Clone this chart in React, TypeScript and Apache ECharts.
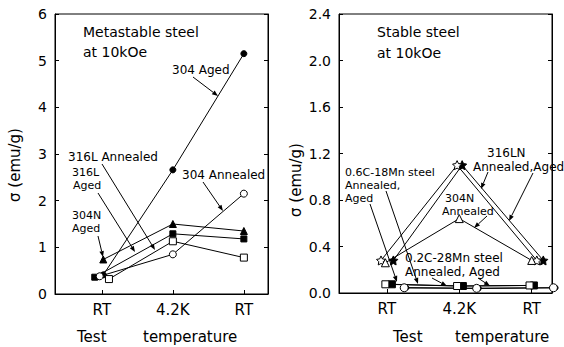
import React, { useEffect, useRef } from "react";
import * as echarts from "echarts";

// ---- Data ----
const categories = ["RT", "4.2K", "RT"];
const categoryPositions = [1, 2, 3];

// Left panel: metastable steel (σ in emu/g)
const leftYTicks = [0, 1, 2, 3, 4, 5, 6];
const aged304X = [1.02, 2.0, 3.0];
const aged304Y = [0.41, 2.66, 5.15];
const annealed304X = [0.97, 2.0, 3.0];
const annealed304Y = [0.38, 0.85, 2.15];
const aged304NX = [1.02, 2.0, 3.0];
const aged304NY = [0.74, 1.5, 1.35];
const aged316LX = [0.9, 2.0, 3.0];
const aged316LY = [0.36, 1.29, 1.18];
const annealed316LX = [1.1, 2.0, 3.0];
const annealed316LY = [0.32, 1.13, 0.78];

// Right panel: stable steel
const rightYTicks = [0, 0.4, 0.8, 1.2, 1.6, 2.0, 2.4];
const openStar316LNX = [0.92, 1.97, 3.07];
const openStar316LNY = [0.28, 1.1, 0.28];
const filledStar316LNX = [1.09, 2.04, 3.16];
const filledStar316LNY = [0.28, 1.1, 0.28];
const annealed304NX = [0.98, 2.0, 3.0];
const annealed304NY = [0.26, 0.64, 0.28];
const openSq06CX = [0.98, 1.97, 2.97];
const openSq06CY = [0.075, 0.06, 0.065];
const filledSq06CX = [1.07, 2.05, 3.03];
const filledSq06CY = [0.075, 0.06, 0.065];
const openCirc02CX = [1.24, 2.24, 3.3];
const openCirc02CY = [0.045, 0.04, 0.045];
const filledCirc02CX = [1.27, 2.27, 3.33];
const filledCirc02CY = [0.045, 0.04, 0.045];

const FONT = "'DejaVu Sans', sans-serif";
const STAR =
  "path://M0,-10L2.94,-4.05L9.51,-3.09L4.76,1.55L5.88,8.09L0,5.09L-5.88,8.09L-4.76,1.55L-9.51,-3.09L-2.94,-4.05Z";

function series(
  name: string,
  xs: number[],
  ys: number[],
  symbol: string,
  filled: boolean,
  size: number,
  axis: number
) {
  return {
    name,
    type: "line",
    xAxisIndex: axis,
    yAxisIndex: axis * 2,
    data: xs.map((x, i) => [x, ys[i]]),
    symbol,
    symbolSize: size,
    showSymbol: true,
    clip: false,
    lineStyle: { color: "#000", width: 1 },
    itemStyle: {
      color: filled ? "#000" : "#fff",
      borderColor: "#000",
      borderWidth: 1,
    },
    z: filled ? 3 : 4,
  };
}

function arrow(x1: number, y1: number, x2: number, y2: number) {
  const head = 6;
  const w = 2.3;
  const dx = x2 - x1;
  const dy = y2 - y1;
  const L = Math.hypot(dx, dy);
  const ux = dx / L;
  const uy = dy / L;
  const bx = x2 - ux * head;
  const by = y2 - uy * head;
  const px = -uy;
  const py = ux;
  return {
    type: "group",
    children: [
      {
        type: "line",
        shape: { x1, y1, x2: bx, y2: by },
        style: { stroke: "#000", lineWidth: 1 },
      },
      {
        type: "polygon",
        shape: {
          points: [
            [x2, y2],
            [bx + px * w, by + py * w],
            [bx - px * w, by - py * w],
          ],
        },
        style: { fill: "#000" },
      },
    ],
  };
}

function label(text: string, x: number, y: number, size = 12, rotation = 0, align = "left") {
  return {
    type: "text",
    x,
    y,
    rotation,
    style: {
      text,
      fill: "#000",
      fontSize: size,
      fontFamily: FONT,
      textAlign: align,
      textVerticalAlign: "middle",
    },
    z: 10,
  };
}

function xAxisCfg(gridIndex: number, min: number, max: number) {
  return {
    type: "value",
    gridIndex,
    min,
    max,
    axisLine: { show: true, lineStyle: { color: "#000", width: 1 } },
    axisTick: {
      show: true,
      inside: true,
      length: 4,
      customValues: categoryPositions,
      lineStyle: { color: "#000" },
    },
    axisLabel: {
      show: true,
      customValues: categoryPositions,
      formatter: (v: number) => categories[Math.round(v) - 1] ?? "",
      color: "#000",
      fontSize: 15,
      fontFamily: FONT,
      margin: 8,
    },
    splitLine: { show: false },
  };
}

function yAxisCfg(gridIndex: number, max: number, interval: number, right: boolean, decimals: number) {
  return {
    type: "value",
    gridIndex,
    position: right ? "right" : "left",
    min: 0,
    max,
    interval,
    axisLine: { show: true, onZero: false, lineStyle: { color: "#000", width: 1 } },
    axisTick: { show: true, inside: true, length: 4, lineStyle: { color: "#000" } },
    axisLabel: {
      show: !right,
      color: "#000",
      fontSize: 14,
      fontFamily: FONT,
      margin: 8,
      formatter: (v: number) => v.toFixed(decimals),
    },
    splitLine: { show: false },
  };
}

export default function App() {
  const ref = useRef<HTMLDivElement>(null);
  useEffect(() => {
    document.body.style.margin = "0";
    const chart = echarts.init(ref.current!, null, { renderer: "svg" });
    const option = {
      animation: false,
      backgroundColor: "#fff",
      grid: [
        { left: 55, top: 14, width: 213, height: 280, show: true, borderColor: "#000", borderWidth: 1 },
        { left: 339, top: 14, width: 213, height: 279, show: true, borderColor: "#000", borderWidth: 1 },
      ],
      xAxis: [xAxisCfg(0, 0.34, 3.34), xAxisCfg(1, 0.34, 3.28)],
      yAxis: [
        yAxisCfg(0, leftYTicks[leftYTicks.length - 1], 1, false, 0),
        yAxisCfg(0, leftYTicks[leftYTicks.length - 1], 1, true, 0),
        yAxisCfg(1, rightYTicks[rightYTicks.length - 1], 0.4, false, 1),
        yAxisCfg(1, rightYTicks[rightYTicks.length - 1], 0.4, true, 1),
      ],
      series: [
        series("304 Aged", aged304X, aged304Y, "circle", true, 6, 0),
        series("304 Annealed", annealed304X, annealed304Y, "circle", false, 7, 0),
        series("304N Aged", aged304NX, aged304NY, "triangle", true, 7, 0),
        series("316L Aged", aged316LX, aged316LY, "rect", true, 6, 0),
        series("316L Annealed", annealed316LX, annealed316LY, "rect", false, 7, 0),
        series("316LN Annealed", openStar316LNX, openStar316LNY, STAR, false, 9, 1),
        series("316LN Aged", filledStar316LNX, filledStar316LNY, STAR, true, 9, 1),
        series("304N Annealed", annealed304NX, annealed304NY, "triangle", false, 8, 1),
        series("0.6C-18Mn Annealed", openSq06CX, openSq06CY, "rect", false, 7, 1),
        series("0.6C-18Mn Aged", filledSq06CX, filledSq06CY, "rect", true, 7, 1),
        series("0.2C-28Mn Annealed", openCirc02CX, openCirc02CY, "circle", false, 8, 1),
        series("0.2C-28Mn Aged", filledCirc02CX, filledCirc02CY, "circle", true, 5, 1),
      ],
      graphic: [
        // left panel texts
        label("Metastable steel", 83, 32, 14),
        label("at 10kOe", 83, 52, 14),
        label("304 Aged", 172, 70, 12),
        label("316L Annealed", 68, 157, 12),
        label("316L", 72, 172, 11),
        label("Aged", 73, 185, 11),
        label("304N", 72, 215, 11),
        label("Aged", 72, 228, 11),
        label("304 Annealed", 182, 175, 12),
        label("σ (emu/g)", 15, 165, 15, Math.PI / 2, "center"),
        label("Test", 77, 337, 15),
        label("temperature", 143, 337, 15),
        arrow(193, 77, 218, 96),
        arrow(102, 164, 155, 250),
        arrow(98, 193, 135, 252),
        arrow(98, 236, 103, 257),
        arrow(203, 182, 223, 211),
        // right panel texts
        label("Stable steel", 377, 32, 14),
        label("at 10kOe", 377, 53, 14),
        label("316LN", 487, 153, 12),
        label("Annealed,Aged", 473, 167, 12),
        label("304N", 445, 198, 11),
        label("Annealed", 442, 211, 11),
        label("0.6C-18Mn steel", 345, 172, 11),
        label("Annealed,", 345, 185, 11),
        label("Aged", 345, 198, 11),
        label("0.2C-28Mn steel", 405, 258, 12),
        label("Annealed, Aged", 405, 272, 12),
        label("σ (emu/g)", 296, 180, 15, Math.PI / 2, "center"),
        label("Test", 393, 337, 15),
        label("temperature", 455, 337, 15),
        arrow(488, 172, 481, 189),
        arrow(533, 173, 509, 221),
        arrow(487, 216, 474, 228),
        arrow(370, 204, 397, 282),
        arrow(386, 191, 418, 284),
        arrow(432, 278, 447, 286),
        arrow(478, 278, 490, 286),
      ],
    };
    chart.setOption(option as any);
    return () => chart.dispose();
  }, []);
  return (
    <div
      ref={ref}
      style={{ position: "absolute", left: 0, top: 0, width: 564, height: 347 }}
    />
  );
}
